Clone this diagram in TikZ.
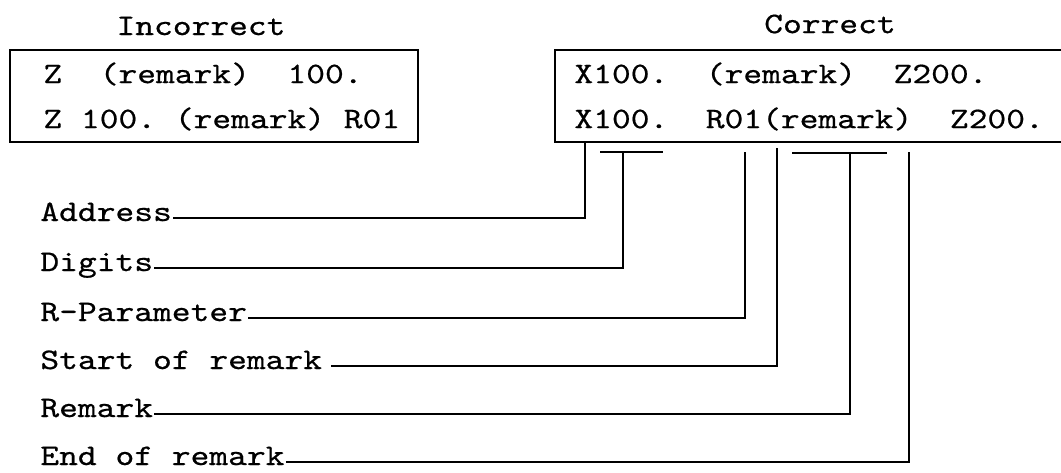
\documentclass[tikz,border=0pt]{standalone}
\usepackage{fontspec}
\newfontfamily\tw{lmmono10-regular.otf}[FakeStretch=1.2, FakeBold=0.6]
\usetikzlibrary{positioning}

\begin{document}
\begin{tikzpicture}[
  line width=2pt,
  txt/.style={font=\tw\fontsize{21.2}{25}\selectfont, inner sep=0pt},
  row/.style={txt, anchor=west},
  lbl/.style={txt, anchor=base west},
  lead/.style={line width=1.8pt}
]
  \useasboundingbox (0,0) rectangle (26.525,-11.8);

  % headings
  \node[txt] (inc) at (5.025,-0.65) {Incorrect};
  \node[txt] (cor) at (20.75,-0.6) {Correct};

  % left box
  \draw (0.25,-1.25) rectangle (10.45,-3.55);
  \node[row] (inc1) at (1.05,-1.85) {Z~~(remark)~~100.};
  \node[row] (inc2) at (1.05,-2.975) {Z~100.~(remark)~R01};

  % right box, open to the right
  \draw (26.525,-1.25) -- (13.875,-1.25) -- (13.875,-3.55) -- (26.525,-3.55);
  \node[row] (cor1) at (14.325,-1.85) {X100.~~(remark)~~Z200.};
  \node[row] (cor2) at (14.325,-2.975) {X100.~~R01(remark)~~Z200.};

  % tops of the leaders
  \coordinate (tAddr) at (14.625,-3.55);
  \coordinate (tDig) at (15.575,-3.8);
  \coordinate (tRpar) at (18.625,-3.8);
  \coordinate (tStart) at (19.425,-3.7);
  \coordinate (tRem) at (21.25,-3.825);
  \coordinate (tEnd) at (22.725,-3.8);
  \coordinate (digL) at (15.0,-3.8);
  \coordinate (digR) at (16.575,-3.8);
  \coordinate (remL) at (19.8,-3.825);
  \coordinate (remR) at (22.175,-3.825);
  \draw[lead] (digL) -- (digR);
  \draw[lead] (remL) -- (remR);

  % labels
  \node[lbl] (addr) at (0.975,-5.525) {Address};
  \node[lbl] (dig) at (0.975,-6.775) {Digits};
  \node[lbl] (rpar) at (0.975,-8.025) {R-Parameter};
  \node[lbl] (start) at (0.975,-9.225) {Start of remark};
  \node[lbl] (rem) at (0.975,-10.425) {Remark};
  \node[lbl] (end) at (0.975,-11.625) {End of remark};

  \draw[lead] ([yshift=0.075cm]addr.base east) -| (tAddr);
  \draw[lead] ([yshift=0.075cm]dig.base east) -| (tDig);
  \draw[lead] ([yshift=0.075cm]rpar.base east) -| (tRpar);
  \draw[lead] ([xshift=0.2cm,yshift=0.075cm]start.base east) -| (tStart);
  \draw[lead] ([yshift=0.075cm]rem.base east) -| (tRem);
  \draw[lead] ([yshift=0.075cm]end.base east) -| (tEnd);
\end{tikzpicture}
\end{document}
